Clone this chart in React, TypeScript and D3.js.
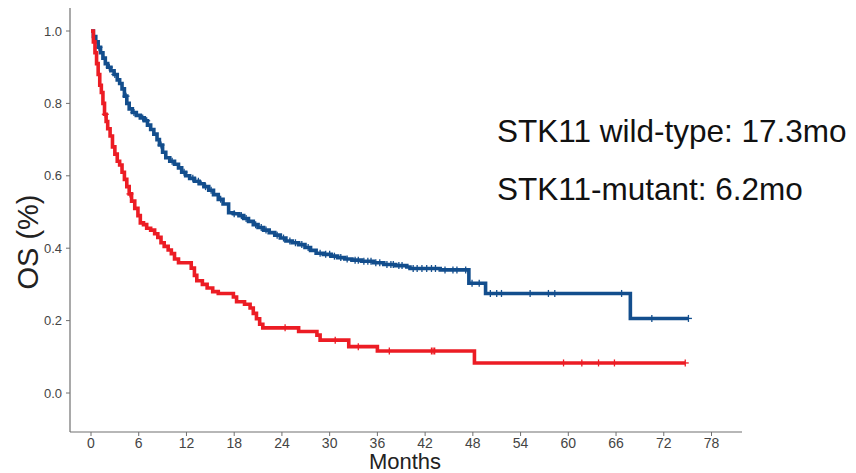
import React from "react";
import * as d3 from "d3";

const xTicks = [0, 6, 12, 18, 24, 30, 36, 42, 48, 54, 60, 66, 72, 78];
const yTicks = [0, 0.2, 0.4, 0.6, 0.8, 1.0];

// STK11 wild-type (blue): event times and survival after the event
const wtTimes = [0, 0.3, 0.6, 0.9, 1.2, 1.5, 1.8, 2.1, 2.5, 2.9, 3.3, 3.6, 3.9, 4.2, 4.5, 4.8, 5.2, 5.7, 6.2, 6.7, 7.1, 7.5, 7.9, 8.3, 8.6, 9.0, 9.4, 9.9, 10.5, 11.0, 11.4, 11.9, 12.4, 13.0, 13.6, 14.2, 14.8, 15.4, 16.0, 16.6, 17.3, 17.9, 18.6, 19.2, 19.8, 20.4, 21.0, 21.7, 22.4, 23.1, 23.8, 24.5, 25.3, 26.1, 26.9, 27.6, 28.3, 29.2, 30.2, 31.0, 31.9, 32.8, 34.0, 35.5, 36.8, 38.3, 39.7, 40.1, 43.9, 47.5, 49.6, 67.8, 75.1];
const wtSurv = [1.0, 0.985, 0.97, 0.955, 0.94, 0.925, 0.91, 0.9, 0.89, 0.88, 0.865, 0.855, 0.84, 0.82, 0.8, 0.785, 0.775, 0.767, 0.76, 0.752, 0.74, 0.728, 0.715, 0.7, 0.685, 0.665, 0.65, 0.64, 0.632, 0.622, 0.61, 0.6, 0.593, 0.585, 0.578, 0.57, 0.56, 0.548, 0.535, 0.522, 0.498, 0.495, 0.49, 0.482, 0.474, 0.465, 0.457, 0.45, 0.443, 0.436, 0.428, 0.42, 0.415, 0.41, 0.402, 0.394, 0.386, 0.383, 0.378, 0.374, 0.37, 0.367, 0.364, 0.36, 0.355, 0.352, 0.348, 0.344, 0.34, 0.303, 0.275, 0.206, 0.206];
const wtCensor = [1.0, 2.3, 3.0, 4.4, 5.4, 6.5, 7.0, 8.8, 10.2, 11.7, 12.8, 13.5, 14.4, 15.1, 16.3, 18.0, 18.9, 19.5, 20.7, 21.4, 22.0, 23.4, 24.2, 25.0, 25.7, 26.5, 27.3, 28.8, 29.5, 30.0, 30.6, 31.4, 32.2, 33.2, 33.6, 34.3, 34.8, 35.2, 35.8, 36.3, 37.2, 37.7, 38.0, 38.7, 39.1, 40.5, 41.0, 41.6, 42.2, 42.8, 43.3, 44.5, 45.5, 46.0, 47.1, 47.9, 48.8, 50.2, 51.0, 51.6, 55.2, 57.5, 58.3, 66.7, 70.5, 75.1];

// STK11-mutant (red)
const mutTimes = [0, 0.3, 0.5, 0.7, 0.9, 1.1, 1.3, 1.5, 1.7, 1.9, 2.1, 2.4, 2.7, 3.0, 3.3, 3.6, 3.9, 4.2, 4.5, 4.8, 5.1, 5.5, 5.9, 6.2, 6.6, 7.0, 7.5, 8.0, 8.4, 8.8, 9.2, 9.7, 10.1, 10.5, 11.0, 12.6, 13.0, 13.3, 14.0, 14.6, 15.3, 16.0, 17.9, 18.3, 19.3, 20.0, 20.4, 20.8, 21.2, 21.6, 26.1, 28.4, 28.8, 32.4, 36.0, 48.2, 74.7];
const mutSurv = [1.0, 0.97, 0.94, 0.91, 0.88, 0.85, 0.83, 0.8, 0.77, 0.75, 0.73, 0.71, 0.68, 0.66, 0.64, 0.63, 0.61, 0.59, 0.57, 0.55, 0.53, 0.51, 0.49, 0.47, 0.465, 0.455, 0.45, 0.44, 0.43, 0.415, 0.405, 0.395, 0.385, 0.37, 0.36, 0.345, 0.325, 0.31, 0.3, 0.29, 0.28, 0.275, 0.265, 0.252, 0.245, 0.235, 0.22, 0.205, 0.19, 0.18, 0.17, 0.16, 0.146, 0.128, 0.116, 0.083, 0.083];
const mutCensor = [1.8, 4.9, 24.4, 30.7, 33.6, 37.5, 42.8, 43.0, 43.2, 59.4, 61.7, 63.8, 65.8, 74.7];

const labels = ["STK11 wild-type: 17.3mo", "STK11-mutant: 6.2mo"];

const BLUE = "#134e8d";
const RED = "#ec1c24";
const FONT = "'Liberation Sans', Arial, sans-serif";

function survAt(times: number[], surv: number[], t: number) {
  let s = surv[0];
  for (let i = 0; i < times.length; i++) {
    if (times[i] <= t) s = surv[i];
    else break;
  }
  return s;
}

export default function App() {
  const x = d3.scaleLinear().domain([0, 78]).range([91, 711.5]);
  const y = d3.scaleLinear().domain([0, 1]).range([393, 31]);
  const axisY = 432;
  const axisX = 70;
  const line = d3
    .line<[number, number]>()
    .x((d) => x(d[0]))
    .y((d) => y(d[1]))
    .curve(d3.curveStepAfter);

  const series = [
    { times: wtTimes, surv: wtSurv, censor: wtCensor, color: BLUE },
    { times: mutTimes, surv: mutSurv, censor: mutCensor, color: RED },
  ];

  return (
    <svg
      width={856}
      height={473}
      style={{ position: "absolute", left: 0, top: 0, background: "#fff" }}
      fontFamily={FONT}
    >
      <rect width={856} height={473} fill="#fff" />
      {/* axes */}
      <line x1={axisX} x2={axisX} y1={8} y2={axisY} stroke="#707070" strokeWidth={1.2} />
      <line x1={axisX} x2={742} y1={axisY} y2={axisY} stroke="#707070" strokeWidth={1.2} />
      {yTicks.map((t) => (
        <g key={"y" + t}>
          <line x1={axisX - 4} x2={axisX} y1={y(t)} y2={y(t)} stroke="#707070" strokeWidth={1} />
          <text x={axisX - 8} y={y(t)} dy="0.35em" textAnchor="end" fontSize={13} fill="#444">
            {t.toFixed(1)}
          </text>
        </g>
      ))}
      {xTicks.map((t) => (
        <g key={"x" + t}>
          <line x1={x(t)} x2={x(t)} y1={axisY} y2={axisY + 4} stroke="#707070" strokeWidth={1} />
          <text x={x(t)} y={axisY + 15.5} textAnchor="middle" fontSize={14} fill="#444">
            {t}
          </text>
        </g>
      ))}
      <text x={405} y={469} textAnchor="middle" fontSize={22} fill="#222">
        Months
      </text>
      <text
        transform={`translate(38,242) rotate(-90)`}
        textAnchor="middle"
        fontSize={29}
        fill="#222"
      >
        OS (%)
      </text>
      {/* curves */}
      {series.map((s, i) => (
        <g key={i}>
          <path
            d={line(s.times.map((t, j) => [t, s.surv[j]] as [number, number])) || ""}
            fill="none"
            stroke={s.color}
            strokeWidth={3.6}
          />
          {s.censor.map((c, j) => {
            const cx = x(c);
            const cy = y(survAt(s.times, s.surv, c));
            return (
              <g key={j} stroke={s.color} strokeWidth={1.3}>
                <line x1={cx - 3.5} x2={cx + 3.5} y1={cy} y2={cy} />
                <line x1={cx} x2={cx} y1={cy - 3.5} y2={cy + 3.5} />
              </g>
            );
          })}
        </g>
      ))}
      {/* annotations */}
      <text x={497} y={142} fontSize={31.5} fill="#111">
        {labels[0]}
      </text>
      <text x={497} y={200} fontSize={31.5} fill="#111">
        {labels[1]}
      </text>
    </svg>
  );
}
